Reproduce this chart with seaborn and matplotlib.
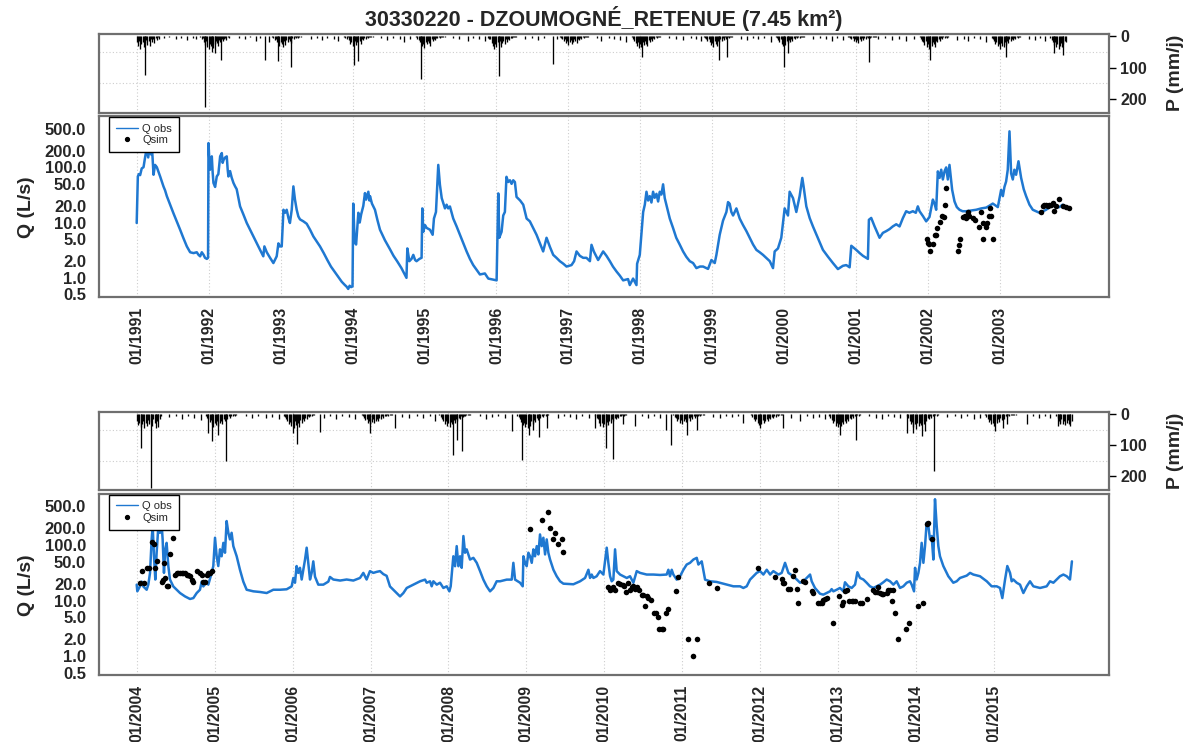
import matplotlib
matplotlib.use("Agg")
import matplotlib.pyplot as plt
import seaborn as sns
import pandas as pd
from matplotlib.lines import Line2D
from matplotlib.ticker import FixedLocator, NullFormatter

# ---------------------------------------------------------------- texts / ticks
TITLE = "30330220 - DZOUMOGNÉ_RETENUE (7.45 km²)"
Q_LABEL = "Q (L/s)"
P_LABEL = "P (mm/j)"
LEGEND_LABELS = ["Q obs", "Qsim"]
Q_TICKS = [0.5, 1, 2, 5, 10, 20, 50, 100, 200, 500]
Q_GRID = [1, 10, 100]
P_TICKS = [0, 100, 200]
P_GRID = [0, 50, 100, 150, 200]
YEARS_1 = list(range(1991, 2004))
YEARS_2 = list(range(2004, 2016))

# ---------------------------------------------------------------- Q obs (decimal year, L/s)
qobs_1 = [
    (1991.000, 9.8), (1991.016, 68), (1991.030, 75), (1991.048, 72), (1991.070, 95), (1991.095, 100),
    (1991.120, 160), (1991.140, 220), (1991.160, 150), (1991.180, 240), (1991.200, 170), (1991.215, 200),
    (1991.234, 73), (1991.255, 110), (1991.280, 100), (1991.300, 85), (1991.326, 68), (1991.350, 55),
    (1991.372, 45), (1991.395, 38), (1991.419, 30), (1991.465, 21), (1991.510, 14.8), (1991.557, 10.5),
    (1991.604, 7.4), (1991.650, 5.2), (1991.697, 3.7), (1991.743, 2.9), (1991.790, 2.8), (1991.835, 2.9),
    (1991.860, 2.6), (1991.882, 2.45), (1991.905, 2.9), (1991.930, 2.6), (1991.950, 2.3), (1991.975, 2.2),
    (1991.992, 2.3),
    (1991.998, 273), (1992.010, 134), (1992.020, 90), (1992.030, 120), (1992.044, 157), (1992.056, 80),
    (1992.067, 52), (1992.090, 44), (1992.113, 68), (1992.135, 75), (1992.160, 157), (1992.183, 180),
    (1992.195, 120), (1992.206, 134), (1992.230, 150), (1992.252, 157), (1992.265, 90), (1992.275, 68),
    (1992.298, 85), (1992.320, 65), (1992.345, 52), (1992.368, 45), (1992.390, 40), (1992.437, 19.6),
    (1992.483, 14), (1992.530, 9.8), (1992.576, 7.4), (1992.622, 5.6), (1992.668, 4.2), (1992.715, 3.2),
    (1992.760, 2.45), (1992.775, 3.7), (1992.808, 2.9), (1992.854, 2.3), (1992.900, 1.85), (1992.946, 2.45),
    (1992.970, 4.2), (1992.990, 3.7), (1993.016, 3.7),
    (1993.040, 17), (1993.062, 15), (1993.085, 17), (1993.110, 12), (1993.130, 9.8), (1993.155, 17),
    (1993.178, 45), (1993.200, 26), (1993.224, 17), (1993.247, 12.9), (1993.270, 11.4), (1993.317, 10.5),
    (1993.363, 9.5), (1993.410, 7.4), (1993.456, 5.6), (1993.500, 4.6), (1993.548, 3.7), (1993.600, 2.8),
    (1993.650, 2.1), (1993.700, 1.6), (1993.750, 1.3), (1993.800, 1.05), (1993.850, 0.85), (1993.890, 0.75),
    (1993.919, 0.69), (1993.940, 0.63), (1993.960, 0.72), (1993.980, 0.68), (1994.000, 0.70),
    (1994.010, 22), (1994.030, 4.4), (1994.050, 4.0), (1994.081, 15), (1994.100, 10), (1994.120, 14),
    (1994.150, 20), (1994.173, 34), (1994.190, 26), (1994.220, 36), (1994.235, 25), (1994.243, 30),
    (1994.270, 22), (1994.312, 17), (1994.347, 11), (1994.382, 7.4), (1994.450, 4.8), (1994.520, 3.3),
    (1994.570, 2.5), (1994.620, 2.0), (1994.680, 1.5), (1994.750, 1.0),
    (1994.762, 3.4), (1994.790, 2.0), (1994.820, 2.2), (1994.845, 2.6), (1994.870, 2.1), (1994.890, 2.0),
    (1994.930, 2.2), (1994.960, 2.3), (1994.970, 18), (1994.984, 6.8), (1995.007, 9.0), (1995.030, 8.0),
    (1995.077, 7.4), (1995.114, 6.0), (1995.132, 11.8), (1995.160, 15.5), (1995.192, 110), (1995.215, 48),
    (1995.240, 27.6), (1995.285, 18), (1995.308, 21), (1995.330, 18), (1995.354, 19.5), (1995.400, 11.8),
    (1995.447, 8.5), (1995.493, 6.0), (1995.540, 4.2), (1995.586, 3.0), (1995.632, 2.2), (1995.678, 1.7),
    (1995.725, 1.4), (1995.771, 1.15), (1995.840, 1.2), (1995.887, 0.97), (1995.950, 0.93), (1996.003, 0.90),
    (1996.026, 33.6), (1996.040, 5.3), (1996.072, 6.8), (1996.095, 13.4), (1996.118, 15.5), (1996.140, 67),
    (1996.164, 54), (1996.188, 58), (1996.211, 50), (1996.234, 58), (1996.257, 54), (1996.280, 29),
    (1996.330, 25), (1996.373, 21), (1996.420, 11.8), (1996.465, 10.5), (1996.510, 8.0), (1996.558, 6.0),
    (1996.605, 4.2), (1996.650, 3.0), (1996.697, 5.3), (1996.745, 3.6), (1996.790, 2.6), (1996.835, 2.3),
    (1996.882, 2.0), (1996.930, 1.8), (1996.975, 1.6),
    (1997.044, 1.7), (1997.080, 2.0), (1997.114, 3.0), (1997.160, 2.5), (1997.206, 2.3), (1997.252, 2.3),
    (1997.300, 2.0), (1997.322, 3.95), (1997.354, 3.0), (1997.414, 2.1), (1997.484, 3.0), (1997.530, 2.5),
    (1997.577, 2.0), (1997.620, 1.6), (1997.670, 1.3), (1997.715, 1.1), (1997.762, 0.90), (1997.830, 0.95),
    (1997.854, 0.74), (1997.900, 0.97), (1997.947, 0.74),
    (1997.956, 1.8), (1997.993, 2.6), (1998.040, 15.5), (1998.063, 21), (1998.086, 36), (1998.109, 25),
    (1998.132, 30), (1998.155, 23), (1998.178, 36), (1998.200, 28), (1998.225, 33), (1998.248, 24),
    (1998.271, 36), (1998.294, 32), (1998.317, 49), (1998.340, 27.6), (1998.375, 18), (1998.410, 11.8),
    (1998.455, 8.0), (1998.500, 5.3), (1998.548, 4.0), (1998.595, 3.0), (1998.640, 2.4), (1998.688, 2.0),
    (1998.734, 1.85), (1998.780, 1.5), (1998.830, 1.6), (1998.873, 1.6), (1998.942, 1.45), (1998.989, 2.1),
    (1999.035, 1.85),
    (1999.058, 2.6), (1999.104, 6.0), (1999.150, 10.8), (1999.197, 15.5), (1999.220, 23.4), (1999.243, 21.8),
    (1999.266, 15.5), (1999.290, 13.4), (1999.336, 18), (1999.382, 11.8), (1999.428, 9.0), (1999.475, 7.0),
    (1999.521, 5.3), (1999.568, 4.0), (1999.614, 3.2), (1999.660, 2.9), (1999.706, 2.6), (1999.750, 2.3),
    (1999.800, 2.0), (1999.845, 1.5), (1999.868, 3.0), (1999.914, 3.4), (1999.960, 5.3), (2000.007, 18),
    (2000.053, 13.4), (2000.076, 36), (2000.123, 27.6), (2000.169, 15.5),
    (2000.215, 30), (2000.252, 64), (2000.270, 45), (2000.308, 19.6), (2000.355, 12), (2000.400, 8.5),
    (2000.470, 5.2), (2000.539, 3.2), (2000.610, 2.4), (2000.678, 1.85), (2000.747, 1.44), (2000.817, 1.65),
    (2000.863, 1.7), (2000.910, 1.55), (2000.933, 3.8), (2001.002, 3.2), (2001.050, 2.8), (2001.095, 2.5),
    (2001.164, 2.2),
    (2001.178, 11.2), (2001.210, 12.1), (2001.257, 8.5), (2001.326, 5.3), (2001.372, 6.5), (2001.420, 7.0),
    (2001.465, 7.6), (2001.510, 8.5), (2001.558, 9.3), (2001.604, 8.5), (2001.650, 12), (2001.696, 16),
    (2001.740, 15), (2001.789, 16), (2001.830, 15), (2001.858, 19.6), (2001.882, 16), (2001.930, 13),
    (2001.974, 10.5), (2002.020, 12.6), (2002.067, 26), (2002.090, 22), (2002.113, 17),
    (2002.136, 84), (2002.160, 64), (2002.183, 90), (2002.206, 60), (2002.230, 85), (2002.252, 99),
    (2002.275, 60), (2002.298, 110), (2002.335, 39), (2002.368, 24), (2002.400, 19), (2002.437, 17),
    (2002.480, 16), (2002.530, 16), (2002.600, 16.5), (2002.669, 17), (2002.740, 18), (2002.808, 18.6),
    (2002.850, 20), (2002.900, 22), (2002.970, 19),
    (2003.016, 39), (2003.040, 30), (2003.062, 44), (2003.085, 55), (2003.108, 90), (2003.132, 445),
    (2003.155, 77), (2003.178, 60), (2003.200, 90), (2003.224, 73), (2003.257, 128), (2003.294, 64),
    (2003.330, 40), (2003.363, 30), (2003.410, 21), (2003.456, 17), (2003.500, 16), (2003.548, 15),
    (2003.600, 16), (2003.641, 17), (2003.690, 19), (2003.734, 20.5), (2003.780, 19), (2003.826, 19),
    (2003.870, 21), (2003.918, 19), (2003.965, 18.6),
]

qobs_2 = [
    (2004.000, 19.4), (2004.008, 14.7), (2004.042, 18.1), (2004.064, 22), (2004.085, 18), (2004.128, 15.7),
    (2004.149, 19.4), (2004.171, 31.6), (2004.192, 127), (2004.205, 221), (2004.222, 63), (2004.239, 24),
    (2004.256, 73), (2004.278, 221), (2004.299, 167), (2004.316, 292), (2004.333, 127), (2004.350, 31.6),
    (2004.367, 84), (2004.384, 110), (2004.406, 42), (2004.427, 24), (2004.470, 18), (2004.513, 15.7),
    (2004.556, 13.7), (2004.620, 11.9), (2004.684, 10.7), (2004.727, 11.1), (2004.770, 13.7), (2004.812, 15.7),
    (2004.834, 22), (2004.855, 18), (2004.898, 22), (2004.919, 19.4), (2004.962, 31.6), (2004.983, 42),
    (2005.005, 136), (2005.026, 63), (2005.047, 42), (2005.069, 84), (2005.090, 63), (2005.112, 110),
    (2005.133, 73), (2005.154, 272), (2005.176, 167), (2005.197, 127), (2005.218, 167), (2005.240, 96),
    (2005.283, 63), (2005.325, 36), (2005.368, 22), (2005.411, 15.7), (2005.497, 14.7), (2005.582, 14.3),
    (2005.668, 13.7), (2005.753, 15.7), (2005.839, 15.7), (2005.924, 16), (2005.988, 18), (2006.010, 25.6),
    (2006.031, 21), (2006.052, 42), (2006.074, 31.6), (2006.095, 39), (2006.117, 24), (2006.138, 36),
    (2006.160, 55), (2006.181, 90), (2006.202, 48), (2006.224, 24), (2006.245, 31.6), (2006.266, 51),
    (2006.288, 27), (2006.330, 19.4), (2006.395, 19.4), (2006.459, 22), (2006.480, 26.7), (2006.523, 24),
    (2006.610, 23), (2006.694, 24), (2006.780, 23), (2006.865, 25.6), (2006.908, 31.6), (2006.950, 24),
    (2006.993, 34), (2007.036, 31.6), (2007.080, 33), (2007.122, 34), (2007.165, 30), (2007.207, 28),
    (2007.250, 18), (2007.336, 13.7), (2007.379, 11.9), (2007.422, 13.7), (2007.465, 16.9), (2007.550, 19.4),
    (2007.636, 22.3), (2007.700, 23.9), (2007.721, 21), (2007.764, 22.3), (2007.785, 18.1), (2007.807, 22.3),
    (2007.850, 19.4), (2007.892, 21), (2007.935, 16.9), (2007.978, 18.1), (2008.012, 14.7), (2008.029, 18.1),
    (2008.063, 63), (2008.085, 41.7), (2008.106, 96), (2008.128, 41.7), (2008.149, 63), (2008.170, 39),
    (2008.192, 146), (2008.213, 73), (2008.234, 84), (2008.277, 55), (2008.320, 59), (2008.363, 48),
    (2008.406, 34), (2008.448, 23.9), (2008.491, 18.1), (2008.534, 14.7), (2008.577, 16.9), (2008.619, 22.3),
    (2008.662, 22.3), (2008.748, 23.9), (2008.812, 23.9), (2008.833, 48), (2008.855, 23.9), (2008.919, 21),
    (2008.953, 18.1), (2008.962, 63), (2008.983, 48), (2009.004, 41.7), (2009.026, 73), (2009.047, 63),
    (2009.069, 48), (2009.090, 84), (2009.111, 63), (2009.133, 96), (2009.154, 68), (2009.175, 156),
    (2009.197, 96), (2009.218, 136), (2009.240, 68), (2009.261, 127), (2009.282, 73), (2009.304, 55),
    (2009.347, 36), (2009.389, 27.5), (2009.432, 22.3), (2009.475, 20.2), (2009.603, 19.7), (2009.689, 22.3),
    (2009.753, 25.6), (2009.796, 36), (2009.817, 25.6), (2009.838, 29.5), (2009.860, 25.6), (2009.902, 27.5),
    (2009.945, 34), (2009.988, 29.5), (2010.031, 90), (2010.052, 48), (2010.074, 27.5), (2010.095, 22.3),
    (2010.116, 23.9), (2010.138, 84), (2010.159, 34), (2010.202, 29.5), (2010.288, 25.6), (2010.330, 27.5),
    (2010.373, 21), (2010.416, 34), (2010.459, 31.6), (2010.544, 29.5), (2010.630, 29.5), (2010.715, 29),
    (2010.800, 29.5), (2010.822, 36), (2010.843, 27.5), (2010.865, 36), (2010.886, 29.5), (2010.929, 23.9),
    (2010.972, 27.5), (2011.015, 36), (2011.057, 44.7), (2011.100, 48), (2011.143, 55), (2011.186, 59),
    (2011.207, 44.7), (2011.250, 51), (2011.293, 23.9), (2011.357, 22.3), (2011.442, 21.7), (2011.571, 19.4),
    (2011.656, 18.1), (2011.742, 18.1), (2011.784, 16.9), (2011.827, 18.1), (2011.870, 23.9), (2011.913, 27.5),
    (2011.955, 31.6), (2011.998, 34), (2012.041, 29.5), (2012.084, 36), (2012.127, 29.5), (2012.169, 34),
    (2012.234, 29.5), (2012.276, 31.6), (2012.319, 48), (2012.362, 31.6), (2012.426, 27.5), (2012.512, 21),
    (2012.554, 22.3), (2012.597, 25.6), (2012.640, 29.5), (2012.661, 22.3), (2012.703, 16.9), (2012.768, 13.3),
    (2012.810, 12.8), (2012.853, 13.7), (2012.896, 14.7), (2012.917, 16.1), (2012.939, 14.7), (2012.981, 15.7),
    (2013.024, 16.9), (2013.067, 14.7), (2013.088, 21.4), (2013.131, 18.1), (2013.174, 16.9), (2013.217, 19.4),
    (2013.247, 32.5), (2013.281, 25.6), (2013.324, 24), (2013.366, 21), (2013.409, 18.1), (2013.452, 16.9),
    (2013.495, 18.1), (2013.538, 19.4), (2013.580, 21.4), (2013.623, 24), (2013.666, 22.3), (2013.709, 19.4),
    (2013.751, 22.3), (2013.794, 16.9), (2013.837, 18.1), (2013.880, 21), (2013.922, 22.3), (2013.944, 19.4),
    (2013.974, 14.7), (2013.987, 39), (2014.008, 24), (2014.030, 31.6), (2014.051, 48), (2014.072, 110),
    (2014.094, 48), (2014.115, 96), (2014.136, 254), (2014.158, 221), (2014.179, 127), (2014.200, 146),
    (2014.222, 55), (2014.243, 673), (2014.265, 221), (2014.286, 96), (2014.307, 63), (2014.350, 42),
    (2014.414, 27.5), (2014.478, 21), (2014.521, 22.3), (2014.564, 25.6), (2014.650, 28.2), (2014.693, 31.6),
    (2014.735, 29.5), (2014.821, 27.5), (2014.907, 22.3), (2014.970, 18.1), (2015.035, 18.1), (2015.077, 16.9),
    (2015.107, 11.1), (2015.142, 24), (2015.171, 42), (2015.206, 31.6), (2015.227, 22.3), (2015.248, 24),
    (2015.291, 21), (2015.334, 19.4), (2015.377, 13.7), (2015.420, 18.1), (2015.462, 22.3), (2015.505, 18.1),
    (2015.591, 16.9), (2015.676, 18.1), (2015.719, 22.3), (2015.762, 21), (2015.804, 24), (2015.847, 27.5),
    (2015.890, 29.5), (2015.933, 27.5), (2015.975, 24), (2016.000, 51),
]

# ---------------------------------------------------------------- Q sim points
qsim_1 = [
    (2001.988, 5.0), (2001.997, 4.3), (2002.020, 4.1), (2002.034, 3.0), (2002.067, 4.1), (2002.090, 6.0),
    (2002.113, 6.0), (2002.122, 7.9), (2002.160, 10.2), (2002.196, 12.9), (2002.215, 12.4), (2002.238, 21),
    (2002.252, 42), (2002.414, 3.0), (2002.428, 4.0), (2002.451, 5.0), (2002.484, 12.4), (2002.507, 12.9),
    (2002.530, 12.2), (2002.553, 15.2), (2002.576, 12.9), (2002.622, 12.2), (2002.646, 11.2), (2002.715, 8.3),
    (2002.738, 15.2), (2002.761, 10.0), (2002.770, 5.0), (2002.808, 8.3), (2002.822, 10.0), (2002.845, 13.3),
    (2002.863, 18.3), (2002.877, 13.3), (2002.900, 5.0), (2003.571, 15.2), (2003.595, 19.6), (2003.618, 21),
    (2003.641, 21), (2003.664, 19.6), (2003.687, 21), (2003.710, 21), (2003.733, 22.5), (2003.757, 15.9),
    (2003.780, 20), (2003.817, 26.5), (2003.872, 19.6), (2003.918, 19), (2003.965, 18.3),
]

qsim_2 = [
    (2004.042, 21), (2004.063, 34), (2004.094, 21), (2004.136, 39), (2004.158, 39), (2004.200, 113),
    (2004.222, 107), (2004.235, 39), (2004.256, 51), (2004.320, 22), (2004.342, 24), (2004.350, 48),
    (2004.363, 26), (2004.384, 18), (2004.406, 18), (2004.427, 68), (2004.461, 132), (2004.491, 29.5),
    (2004.513, 31), (2004.534, 31.6), (2004.556, 31.6), (2004.577, 31.6), (2004.598, 31.6), (2004.620, 31),
    (2004.641, 29.5), (2004.662, 29.5), (2004.684, 27.5), (2004.705, 24), (2004.727, 22), (2004.770, 34),
    (2004.812, 31.6), (2004.834, 29.5), (2004.855, 22), (2004.876, 22), (2004.898, 29.5), (2004.919, 31.6),
    (2004.940, 31.6), (2004.962, 34),
    (2009.047, 192), (2009.201, 284), (2009.282, 396), (2009.304, 206), (2009.338, 127), (2009.368, 167),
    (2009.411, 103), (2009.453, 127), (2009.466, 75),
    (2010.052, 17.6), (2010.074, 15.7), (2010.095, 16.1), (2010.116, 17.6), (2010.138, 15.7), (2010.180, 20.8),
    (2010.202, 20.2), (2010.236, 19.4), (2010.253, 18.1), (2010.279, 14.1), (2010.309, 20.8), (2010.330, 15.7),
    (2010.352, 17.6), (2010.373, 18.6), (2010.395, 16.1), (2010.416, 17.6), (2010.450, 15.7), (2010.480, 12.8),
    (2010.501, 12.4), (2010.523, 8.1), (2010.544, 12.1), (2010.565, 11.3), (2010.595, 10.3), (2010.638, 6.1),
    (2010.664, 6.1), (2010.694, 5.0), (2010.707, 3.05), (2010.737, 3.05), (2010.758, 3.05), (2010.792, 5.9),
    (2010.813, 7.0), (2010.920, 15.1), (2010.950, 26.7), (2011.079, 2.0), (2011.134, 1.0), (2011.186, 2.0),
    (2011.348, 20.8), (2011.442, 16.9), (2011.977, 39), (2012.190, 26.4), (2012.276, 24.9), (2012.289, 20.8),
    (2012.306, 20.8), (2012.362, 16.1), (2012.383, 16.1), (2012.426, 27.5), (2012.447, 36), (2012.469, 16.1),
    (2012.490, 9.0), (2012.554, 22.3), (2012.575, 21.4), (2012.661, 14.7), (2012.682, 13.7), (2012.746, 9.0),
    (2012.768, 9.0), (2012.789, 9.0), (2012.810, 10.4), (2012.832, 10.7), (2012.853, 11.1), (2012.939, 4.0),
    (2013.016, 11.9), (2013.046, 8.4), (2013.067, 9.3), (2013.088, 14.7), (2013.110, 15.3), (2013.144, 10),
    (2013.174, 10), (2013.195, 10), (2013.217, 10), (2013.281, 9.0), (2013.302, 9.0), (2013.366, 10.8),
    (2013.452, 15.3), (2013.473, 14.1), (2013.495, 14.1), (2013.516, 17.6), (2013.538, 13.7), (2013.559, 13.3),
    (2013.580, 13.3), (2013.623, 13.7), (2013.644, 15.7), (2013.666, 15.7), (2013.687, 10), (2013.709, 15.7),
    (2013.730, 6.0), (2013.773, 2.0), (2013.871, 3.05), (2013.914, 4.0), (2014.030, 7.9), (2014.094, 9.0),
    (2014.136, 237), (2014.158, 247), (2014.200, 130),
]

# ---------------------------------------------------------------- rainfall (mm/day)
RAIN_STEP_DAYS = 6
# wet-season sequences: (first day as decimal year, values every 6 days)
w1991 = (1991.000, [20, 32, 14, 40, 26, 18, 35, 22, 12, 28, 16, 30, 8, 18, 10, 22, 6, 12, 4, 8])
w1992 = (1991.885, [4, 10, 6, 18, 28, 15, 35, 42, 24, 30, 18, 38, 26, 14, 22, 30, 12, 20, 8, 16, 10, 5, 12, 4, 6])
w1993 = (1992.885, [3, 6, 12, 8, 20, 14, 30, 18, 25, 35, 16, 28, 12, 20, 8, 15, 22, 6, 10, 4, 7, 3, 5, 2, 4])
w1994 = (1993.885, [2, 5, 8, 4, 12, 25, 18, 32, 22, 15, 28, 20, 10, 16, 24, 8, 12, 5, 9, 3, 6, 2, 4, 2, 3])
w1995 = (1994.885, [4, 8, 12, 20, 15, 30, 24, 38, 18, 26, 14, 22, 30, 10, 16, 8, 12, 5, 7, 3, 5, 2, 4, 3, 2])
w1996 = (1995.885, [5, 10, 8, 22, 30, 40, 26, 35, 20, 28, 16, 34, 22, 14, 25, 10, 18, 8, 12, 5, 6, 3, 4, 2, 3])
w1997 = (1996.885, [3, 6, 10, 14, 8, 22, 16, 28, 20, 12, 25, 18, 10, 15, 22, 8, 12, 6, 9, 4, 6, 3, 2, 4, 2])
w1998 = (1997.885, [4, 8, 14, 22, 30, 18, 38, 26, 34, 20, 28, 15, 24, 32, 12, 18, 8, 14, 5, 9, 3, 6, 2, 4, 2])
w1999 = (1998.885, [2, 6, 9, 14, 10, 18, 28, 22, 35, 16, 24, 30, 14, 20, 10, 16, 7, 12, 4, 8, 3, 5, 2, 3, 2])
w2000 = (1999.885, [3, 7, 12, 18, 10, 24, 32, 20, 28, 15, 22, 12, 18, 8, 14, 6, 10, 4, 7, 3, 5, 2, 3, 2, 2])
w2001 = (2000.885, [2, 4, 6, 10, 5, 14, 8, 18, 12, 22, 9, 15, 7, 12, 5, 10, 4, 7, 3, 5, 2, 4, 2, 3, 2])
w2002 = (2001.885, [4, 9, 14, 20, 28, 16, 35, 24, 40, 22, 30, 18, 26, 34, 14, 20, 10, 16, 6, 10, 4, 7, 3, 5, 2])
w2003 = (2002.885, [5, 10, 16, 24, 18, 32, 26, 40, 22, 30, 36, 20, 28, 14, 22, 10, 16, 8, 12, 5, 8, 3, 5, 2, 3])
w2004a = (2003.700, [6, 12, 20, 28, 18, 35, 24, 40, 30, 22, 36, 26, 15, 20])

w2004b = (2004.000, [20, 34, 26, 40, 30, 22, 44, 28, 36, 18, 30, 24, 38, 16, 26, 12, 20, 8, 14, 5])
w2005 = (2004.885, [5, 10, 16, 24, 18, 30, 40, 26, 34, 22, 38, 28, 20, 30, 14, 22, 10, 16, 6, 10, 4, 6, 3, 4, 2])
w2006 = (2005.885, [4, 8, 14, 20, 30, 24, 38, 28, 45, 22, 34, 26, 40, 18, 28, 14, 22, 10, 15, 6, 9, 4, 5, 2, 3])
w2007 = (2006.885, [3, 6, 12, 18, 14, 26, 20, 32, 24, 16, 28, 20, 14, 22, 10, 16, 6, 10, 4, 6, 3, 4, 2, 3, 2])
w2008 = (2007.885, [3, 8, 14, 22, 30, 20, 36, 28, 40, 24, 32, 18, 26, 14, 20, 10, 15, 6, 9, 4, 5, 2, 3, 2, 2])
w2009 = (2008.885, [4, 9, 15, 24, 34, 26, 40, 30, 44, 28, 36, 22, 30, 18, 24, 12, 18, 8, 12, 5, 7, 3, 4, 2, 3])
w2010 = (2009.885, [4, 10, 16, 26, 36, 28, 42, 30, 38, 24, 34, 20, 28, 16, 22, 10, 16, 7, 10, 4, 6, 3, 4, 2, 2])
w2011 = (2010.885, [3, 7, 12, 20, 14, 26, 18, 30, 22, 15, 24, 18, 12, 20, 8, 14, 6, 10, 4, 6, 3, 4, 2, 2, 2])
w2012 = (2011.885, [3, 8, 14, 22, 16, 28, 34, 24, 30, 18, 26, 20, 14, 22, 10, 16, 7, 11, 4, 7, 3, 4, 2, 3, 2])
w2013 = (2012.885, [4, 10, 18, 28, 22, 36, 26, 42, 30, 38, 24, 32, 20, 28, 14, 22, 10, 15, 6, 10, 4, 6, 3, 4, 2])
w2014 = (2013.885, [5, 12, 20, 30, 24, 40, 32, 46, 28, 38, 26, 34, 22, 30, 16, 22, 10, 16, 6, 10, 4, 6, 3, 4, 2])
w2015 = (2014.885, [3, 8, 14, 24, 18, 32, 26, 36, 20, 28, 16, 24, 12, 18, 8, 14, 5, 9, 3, 5, 2, 3, 2, 2, 2])
w2016 = (2015.800, [5, 12, 20, 28, 16, 30, 22, 34, 26, 18, 30, 24, 20])

# single days (storms and scattered dry-season rain)
rain_days_1 = [
    (1991.120, 124), (1991.956, 225), (1992.040, 50), (1992.090, 55), (1992.170, 77), (1992.780, 77),
    (1992.965, 80), (1993.150, 98), (1994.020, 92), (1994.080, 80), (1994.956, 137), (1996.030, 128),
    (1996.780, 90), (1998.020, 66), (1999.100, 77), (1999.210, 66), (2000.000, 98), (2000.060, 55),
    (2001.180, 82), (2002.030, 77), (2003.090, 66), (2003.750, 55), (2003.880, 60),
    (1991.38, 6), (1991.45, 4), (1991.55, 8), (1991.62, 5), (1991.70, 12), (1991.78, 6), (1991.83, 9),
    (1992.42, 5), (1992.50, 10), (1992.58, 4), (1992.66, 14), (1992.72, 6), (1992.84, 18),
    (1993.42, 8), (1993.50, 5), (1993.58, 12), (1993.64, 6), (1993.74, 10), (1993.80, 16),
    (1994.40, 6), (1994.48, 12), (1994.56, 5), (1994.66, 8), (1994.72, 20), (1994.80, 10),
    (1995.40, 5), (1995.48, 8), (1995.60, 15), (1995.68, 6), (1995.76, 10), (1995.84, 14),
    (1996.40, 10), (1996.50, 6), (1996.58, 12), (1996.66, 5), (1996.84, 8),
    (1997.40, 6), (1997.46, 14), (1997.56, 5), (1997.64, 9), (1997.72, 12), (1997.80, 18),
    (1998.40, 5), (1998.50, 8), (1998.60, 12), (1998.70, 6), (1998.78, 10), (1998.84, 15),
    (1999.40, 8), (1999.48, 12), (1999.56, 6), (1999.64, 10), (1999.72, 5), (1999.82, 18),
    (2000.40, 10), (2000.50, 5), (2000.58, 9), (2000.66, 14), (2000.74, 6), (2000.82, 12),
    (2001.30, 10), (2001.40, 6), (2001.50, 12), (2001.60, 8), (2001.70, 15), (2001.80, 10),
    (2002.40, 12), (2002.50, 8), (2002.56, 15), (2002.64, 6), (2002.72, 10), (2002.80, 20),
    (2003.40, 8), (2003.48, 12), (2003.56, 6), (2003.62, 15),
]

rain_days_2 = [
    (2004.060, 108), (2004.180, 238), (2004.250, 44), (2004.270, 40), (2004.920, 59), (2004.962, 86),
    (2005.047, 65), (2005.146, 151), (2006.010, 59), (2006.052, 94), (2006.352, 56), (2006.993, 59),
    (2008.054, 130), (2008.105, 84), (2008.170, 119), (2008.950, 146), (2009.040, 65), (2009.090, 49),
    (2009.166, 73), (2009.260, 43), (2009.880, 43), (2010.020, 108), (2010.107, 143), (2010.244, 32),
    (2011.057, 65), (2011.185, 49), (2011.997, 43), (2012.297, 43), (2013.030, 65), (2013.230, 83),
    (2013.880, 59), (2013.965, 59), (2014.070, 70), (2014.115, 54), (2014.235, 184), (2015.013, 54),
    (2015.120, 43), (2015.163, 32), (2015.826, 38), (2015.850, 32), (2015.975, 38),
    (2004.42, 8), (2004.50, 5), (2004.58, 14), (2004.66, 6), (2004.74, 10), (2004.82, 18),
    (2005.40, 6), (2005.48, 10), (2005.56, 5), (2005.66, 12), (2005.74, 8), (2005.82, 15),
    (2006.40, 10), (2006.48, 6), (2006.56, 14), (2006.64, 5), (2006.72, 9), (2006.80, 16),
    (2007.31, 43), (2007.40, 8), (2007.50, 12), (2007.60, 5), (2007.68, 10), (2007.76, 6), (2007.83, 20),
    (2008.40, 6), (2008.48, 14), (2008.56, 8), (2008.64, 5), (2008.72, 12), (2008.81, 54),
    (2009.40, 10), (2009.48, 5), (2009.56, 9), (2009.64, 14), (2009.72, 6), (2009.80, 12),
    (2010.39, 38), (2010.48, 6), (2010.56, 10), (2010.64, 5), (2010.72, 12), (2010.79, 49), (2010.85, 97),
    (2011.40, 8), (2011.48, 12), (2011.56, 5), (2011.64, 9), (2011.72, 6), (2011.78, 27),
    (2012.40, 10), (2012.51, 22), (2012.60, 6), (2012.68, 12), (2012.76, 8), (2012.83, 15),
    (2013.40, 6), (2013.48, 10), (2013.56, 14), (2013.64, 5), (2013.72, 9), (2013.80, 12),
    (2014.40, 8), (2014.50, 5), (2014.58, 12), (2014.66, 6), (2014.74, 16), (2014.82, 10),
    (2015.42, 32), (2015.50, 6), (2015.58, 10), (2015.66, 5), (2015.72, 12),
]

wet_1 = [w1991, w1992, w1993, w1994, w1995, w1996, w1997, w1998, w1999, w2000, w2001, w2002, w2003, w2004a]
wet_2 = [w2004b, w2005, w2006, w2007, w2008, w2009, w2010, w2011, w2012, w2013, w2014, w2015, w2016]


def rain_frame(wet, days):
    rows = []
    for start, vals in wet:
        for i, v in enumerate(vals):
            rows.append((start + i * RAIN_STEP_DAYS / 365.25, v))
    rows += days
    return pd.DataFrame(rows, columns=["t", "p"]).sort_values("t")


# ---------------------------------------------------------------- style
BLUE = "#1f78d1"
FRAME = "#6f6f6f"
GRIDC = "#cdcdcd"
sns.set_style("white")
plt.rcParams["font.family"] = ["Liberation Sans", "DejaVu Sans"]

fig = plt.figure(figsize=(11.89, 7.42), dpi=100)
L, W = 0.0835, 0.8495
axP1 = fig.add_axes([L, 0.8481, W, 0.1061])
axQ1 = fig.add_axes([L, 0.5997, W, 0.2433])
axP2 = fig.add_axes([L, 0.3396, W, 0.1047])
axQ2 = fig.add_axes([L, 0.0899, W, 0.2439])


def frame(ax):
    for s in ax.spines.values():
        s.set_color(FRAME)
        s.set_linewidth(1.6)


def span(years):
    n = years[-1] + 1 - years[0]
    return years[0] - 0.04 * n, years[-1] + 1 + 0.04 * n


def draw_rain(ax, df, years):
    ax.vlines(df["t"], 0, df["p"], color="black", linewidth=0.95, zorder=3)
    ax.set_xlim(*span(years))
    ax.set_ylim(244, -7)
    ax.set_xticks(years)
    ax.tick_params(axis="x", length=0, labelbottom=False)
    ax.grid(False)
    ax.xaxis.grid(True, color=GRIDC, linestyle=(0, (1, 2)), linewidth=0.8)
    ax.yaxis.tick_right()
    ax.set_yticks(P_TICKS)
    ax.set_yticklabels([str(v) for v in P_TICKS], fontsize=11.5, fontweight="bold")
    ax.yaxis.set_minor_locator(FixedLocator(P_GRID))
    ax.yaxis.grid(True, which="minor", color=GRIDC, linestyle=(0, (1, 2)), linewidth=0.8)
    ax.tick_params(axis="y", which="major", length=5, width=1, color="black", pad=3)
    ax.tick_params(axis="y", which="minor", length=0)
    ax.set_axisbelow(True)
    ax.set_xlabel("")
    ax.set_ylabel("")
    frame(ax)


def draw_flow(ax, obs, sim, years):
    dfo = pd.DataFrame(obs, columns=["t", "q"])
    dfs = pd.DataFrame(sim, columns=["t", "q"])
    sns.lineplot(data=dfo, x="t", y="q", ax=ax, color=BLUE, linewidth=1.8,
                 estimator=None, sort=False, legend=False, zorder=2)
    sns.scatterplot(data=dfs, x="t", y="q", ax=ax, color="black", s=16,
                    linewidth=0, legend=False, zorder=4)
    ax.set_yscale("log")
    ax.set_ylim(0.45, 825)
    ax.set_xlim(*span(years))
    ax.set_yticks(Q_TICKS)
    ax.set_yticklabels([f"{v:.1f}" for v in Q_TICKS], fontsize=12, fontweight="bold")
    ax.yaxis.set_minor_locator(FixedLocator(Q_GRID))
    ax.yaxis.set_minor_formatter(NullFormatter())
    ax.set_xticks(years)
    ax.set_xticklabels([f"01/{y}" for y in years], rotation=90, fontsize=11.3, fontweight="bold")
    ax.grid(False)
    ax.xaxis.grid(True, color=GRIDC, linestyle=(0, (1, 2)), linewidth=0.8)
    ax.yaxis.grid(True, which="minor", color=GRIDC, linestyle=(0, (1, 2)), linewidth=0.8)
    ax.tick_params(axis="x", which="major", length=5.5, width=1, color="black", pad=1.5)
    ax.tick_params(axis="y", which="major", length=5.5, width=1, color="black", pad=4)
    ax.tick_params(axis="y", which="minor", length=0)
    ax.set_axisbelow(True)
    ax.set_xlabel("")
    ax.set_ylabel("")
    handles = [Line2D([0], [0], color=BLUE, linewidth=1.0),
               Line2D([0], [0], marker="o", color="black", linestyle="none", markersize=2.8)]
    leg = ax.legend(handles, LEGEND_LABELS, loc="upper left", bbox_to_anchor=(0.0096, 0.998),
                    borderaxespad=0, fontsize=8, frameon=True, fancybox=False, edgecolor="black",
                    framealpha=1, handlelength=2.0, handletextpad=0.4, labelspacing=0.15,
                    borderpad=0.6)
    leg.get_frame().set_linewidth(1.0)
    leg.set_zorder(10)
    frame(ax)


draw_rain(axP1, rain_frame(wet_1, rain_days_1), YEARS_1)
draw_flow(axQ1, qobs_1, qsim_1, YEARS_1)
draw_rain(axP2, rain_frame(wet_2, rain_days_2), YEARS_2)
draw_flow(axQ2, qobs_2, qsim_2, YEARS_2)

fig.text(0.508, 0.9757, TITLE, ha="center", va="center", fontsize=15.5, fontweight="bold")
for yc in (0.721, 0.2116):
    fig.text(0.022, yc, Q_LABEL, ha="center", va="center", rotation=90, fontsize=14, fontweight="bold")
for yc in (0.9016, 0.392):
    fig.text(0.989, yc, P_LABEL, ha="center", va="center", rotation=90, fontsize=14, fontweight="bold")

fig.savefig("out.png", dpi=100)
